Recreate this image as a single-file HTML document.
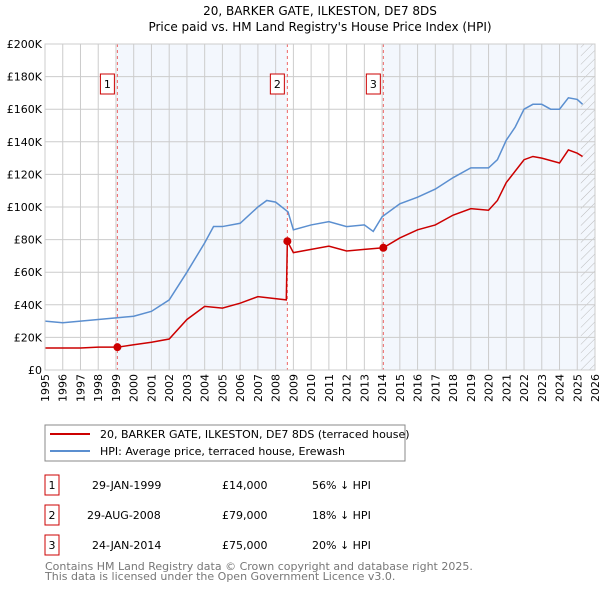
<!DOCTYPE html>
<html><head><meta charset="utf-8"><style>
body{margin:0;background:#fff;font-family:"DejaVu Sans","Liberation Sans",sans-serif;}
svg text{font-family:"DejaVu Sans","Liberation Sans",sans-serif;}
</style></head><body>
<svg id="chart" width="600" height="590" xmlns="http://www.w3.org/2000/svg">
<defs><pattern id="hatch" width="6" height="6" patternUnits="userSpaceOnUse" patternTransform="rotate(45)"><line x1="0" y1="0" x2="0" y2="6" stroke="#bbb" stroke-width="1"/></pattern></defs>
<text x="320" y="15" text-anchor="middle" font-size="12">20, BARKER GATE, ILKESTON, DE7 8DS</text>
<text x="320" y="31" text-anchor="middle" font-size="12">Price paid vs. HM Land Registry's House Price Index (HPI)</text>
<g id="plot"></g>
<g>
<rect x="45" y="425" width="360" height="36" fill="#fff" stroke="#888"/>
<line x1="50" y1="434" x2="90" y2="434" stroke="#cc0000" stroke-width="2"/>
<text x="100" y="438" font-size="11">20, BARKER GATE, ILKESTON, DE7 8DS (terraced house)</text>
<line x1="50" y1="451" x2="90" y2="451" stroke="#5b8fd0" stroke-width="2"/>
<text x="100" y="455" font-size="11">HPI: Average price, terraced house, Erewash</text>
</g>
<g font-size="11">
<rect x="45" y="475" width="14" height="20" fill="#fff" stroke="#cc0000"/><text x="52" y="489" text-anchor="middle">1</text>
<text x="92" y="489">29-JAN-1999</text><text x="222" y="489">£14,000</text><text x="312" y="489">56% ↓ HPI</text>
<rect x="45" y="505" width="14" height="20" fill="#fff" stroke="#cc0000"/><text x="52" y="519" text-anchor="middle">2</text>
<text x="87" y="519">29-AUG-2008</text><text x="222" y="519">£79,000</text><text x="312" y="519">18% ↓ HPI</text>
<rect x="45" y="535" width="14" height="20" fill="#fff" stroke="#cc0000"/><text x="52" y="549" text-anchor="middle">3</text>
<text x="92" y="549">24-JAN-2014</text><text x="222" y="549">£75,000</text><text x="312" y="549">20% ↓ HPI</text>
</g>
<text x="45" y="570" font-size="11" fill="#777">Contains HM Land Registry data © Crown copyright and database right 2025.</text>
<text x="45" y="580" font-size="11" fill="#777">This data is licensed under the Open Government Licence v3.0.</text>
</svg>
<script>
const hpiYears=[1995,1996,1997,1998,1999,2000,2001,2002,2003,2004,2004.5,2005,2006,2007,2007.5,2008,2008.7,2009,2010,2011,2012,2013,2013.5,2014,2015,2016,2017,2018,2019,2020,2020.5,2021,2021.5,2022,2022.5,2023,2023.5,2024,2024.5,2025,2025.3];
const hpiValues=[30,29,30,31,32,33,36,43,60,78,88,88,90,100,104,103,97,86,89,91,88,89,85,94,102,106,111,118,124,124,129,141,149,160,163,163,160,160,167,166,163];
const paidYears=[1995,1996,1997,1998,1999.08,2000,2001,2002,2003,2004,2005,2006,2007,2008.6,2008.66,2009,2010,2011,2012,2013,2014.07,2015,2016,2017,2018,2019,2020,2020.5,2021,2022,2022.5,2023,2024,2024.5,2025,2025.3];
const paidValues=[13.5,13.5,13.5,14,14,15.5,17,19,31,39,38,41,45,43,79,72,74,76,73,74,75,81,86,89,95,99,98,104,115,129,131,130,127,135,133,131];
const saleYears=[1999.08,2008.66,2014.07];
const saleValues=[14,79,75];
const saleLabels=["1","2","3"];
const yTicks=[0,20,40,60,80,100,120,140,160,180,200];
const yTickLabels=["£0","£20K","£40K","£60K","£80K","£100K","£120K","£140K","£160K","£180K","£200K"];
const xTicks=[1995,1996,1997,1998,1999,2000,2001,2002,2003,2004,2005,2006,2007,2008,2009,2010,2011,2012,2013,2014,2015,2016,2017,2018,2019,2020,2021,2022,2023,2024,2025,2026];

const NS="http://www.w3.org/2000/svg";
const X0=45,X1=595,Y0=370,Y1=44;
const xs=y=>X0+(y-1995)/(2026-1995)*(X1-X0);
const ys=v=>Y0-v/200*(Y0-Y1);
const g=document.getElementById('plot');
function mk(t,a){const e=document.createElementNS(NS,t);for(const k in a)e.setAttribute(k,a[k]);g.appendChild(e);return e;}
let e=mk('rect',{x:xs(saleYears[0]),y:Y1,width:xs(saleYears[1])-xs(saleYears[0]),height:Y0-Y1,fill:'#eef3fc',opacity:0.7});


e=mk('rect',{x:xs(saleYears[2]),y:Y1,width:X1-xs(saleYears[2]),height:Y0-Y1,fill:'#eef3fc',opacity:0.7});


e=mk('rect',{x:xs(2025.2),y:Y1,width:X1-xs(2025.2),height:Y0-Y1,fill:'url(#hatch)'});


xTicks.forEach(t=>{
 const l=mk('line',{x1:xs(t),x2:xs(t),y1:Y1,y2:Y0,stroke:'#ccc'});
 
 
 const tx=mk('text',{x:0,y:0,'text-anchor':'end','font-size':11,transform:'translate('+(xs(t)+4)+','+(Y0+4)+') rotate(-90)'});
 
 
 tx.textContent=t;
});
yTicks.forEach((t,i)=>{
 const l=mk('line',{x1:X0,x2:X1,y1:ys(t),y2:ys(t),stroke:'#ccc'});
 
 
 const tx=mk('text',{x:X0-3,y:ys(t)+4,'text-anchor':'end','font-size':11});
 
 
 tx.textContent=yTickLabels[i];
});
saleYears.forEach((s,i)=>{
 const l=mk('line',{x1:xs(s),x2:xs(s),y1:Y1,y2:Y0,stroke:'#e66','stroke-dasharray':'3,3'});
 
 
 const r=mk('rect',{x:xs(s)-17,y:74,width:14,height:20,fill:'#fff',stroke:'#cc0000'});
 
 
 const tx=mk('text',{x:xs(s)-10,y:88,'text-anchor':'middle','font-size':11});
 
 
 tx.textContent=saleLabels[i];
});
const hp=mk('polyline',{points:hpiYears.map((y,i)=>xs(y)+','+ys(hpiValues[i])).join(' '),fill:'none',stroke:'#5b8fd0','stroke-width':1.5});


const pp=mk('polyline',{points:paidYears.map((y,i)=>xs(y)+','+ys(paidValues[i])).join(' '),fill:'none',stroke:'#cc0000','stroke-width':1.5});


saleYears.forEach((s,i)=>{
 const c=mk('circle',{cx:xs(s),cy:ys(saleValues[i]),r:4,fill:'#cc0000'});
 
 
});
e=mk('rect',{x:X0,y:Y1,width:X1-X0,height:Y0-Y1,fill:'none',stroke:'#ccc'});


</script>
</body></html>
